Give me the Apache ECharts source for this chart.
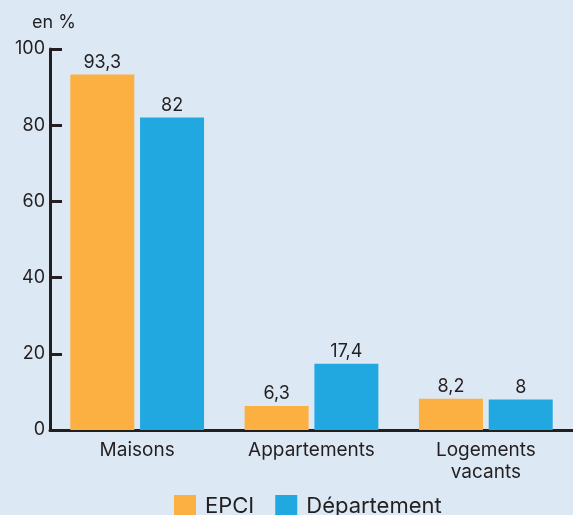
<!DOCTYPE html>
<html>
<head>
<meta charset="utf-8">
<script src="https://cdn.jsdelivr.net/npm/echarts@6/dist/echarts.min.js"></script>
<style>
  html, body { margin: 0; padding: 0; background: #dce8f4; }
  #chart { width: 573px; height: 515px; }
</style>
</head>
<body>
<div id="chart"></div>
<script>
// catégories et valeurs (en %)
const categories = ['Maisons', 'Appartements', 'Logements\nvacants']
const epci = [93.3, 6.3, 8.2]
const departement = [82, 17.4, 8]
const yTicks = [0, 20, 40, 60, 80, 100]

const fmt = (p) => String(p.value).replace('.', ',')

const chart = echarts.init(document.getElementById('chart'))
const option = {
    backgroundColor: '#dce8f4',
    animation: false,
    textStyle: { fontFamily: 'Inter, "Liberation Sans", sans-serif' },
    grid: { left: 50, right: -2, top: 49, bottom: 85 },
    legend: {
        top: 495,
        left: 174,
        padding: 0,
        itemWidth: 22,
        itemHeight: 22,
        itemGap: 21,
        icon: 'rect',
        textStyle: { fontSize: 22, lineHeight: 22, color: '#231f20', padding: [0, 0, 0, 4] },
        data: ['EPCI', 'Département'],
    },
    xAxis: {
        type: 'category',
        data: categories,
        axisLine: { lineStyle: { color: '#231f20', width: 3 } },
        axisTick: { inside: true, length: 10, lineStyle: { color: '#231f20', width: 3 } },
        axisLabel: { fontSize: 19, color: '#231f20', margin: 9, lineHeight: 22 },
    },
    yAxis: {
        type: 'value',
        min: 0,
        max: yTicks[yTicks.length - 1],
        interval: 20,
        name: 'en %',
        nameLocation: 'end',
        nameGap: 17,
        nameTextStyle: { fontSize: 18, color: '#231f20', align: 'center', padding: [0, 0, 0, 8] },
        axisLine: { show: true, lineStyle: { color: '#231f20', width: 3 } },
        axisTick: { show: true, inside: true, length: 12, lineStyle: { color: '#231f20', width: 3 } },
        axisLabel: { fontSize: 18, color: '#231f20', margin: 5 },
        splitLine: { show: false },
    },
    series: [
        {
            name: 'EPCI',
            type: 'bar',
            data: epci,
            barWidth: 64,
            barGap: '9%',
            itemStyle: { color: '#fdb042' },
            label: { show: true, position: 'top', fontSize: 18, color: '#231f20', distance: 3, formatter: fmt },
        },
        {
            name: 'Département',
            type: 'bar',
            data: departement,
            barWidth: 64,
            itemStyle: { color: '#22a8e0' },
            label: { show: true, position: 'top', fontSize: 18, color: '#231f20', distance: 3, formatter: fmt },
        },
    ],
}
chart.setOption(option)
</script>
</body>
</html>
